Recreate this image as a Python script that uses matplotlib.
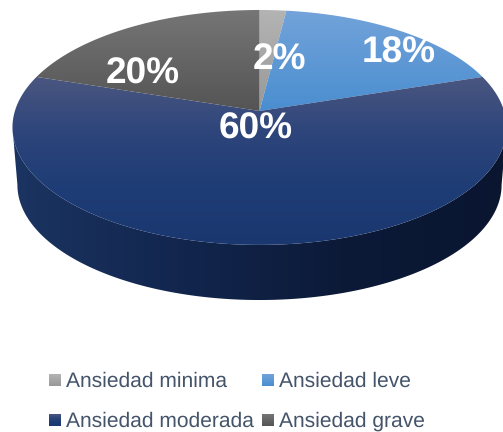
#!/usr/bin/env python3
# -*- coding: utf-8 -*-
import numpy as np
import matplotlib
matplotlib.use("Agg")
import matplotlib.pyplot as plt
from matplotlib.colors import LinearSegmentedColormap
from matplotlib.patches import Polygon

# Data
categories = ["Ansiedad minima", "Ansiedad leve", "Ansiedad moderada", "Ansiedad grave"]
values = [2, 18, 60, 20]

# Vertical gradients for the top face of each slice
slice_colors = [
    ["#b4b4b4", "#989898"],
    ["#73a3da", "#4a8ed0"],
    ["#4a5680", "#2d457b", "#1e3c75", "#1a3770"],
    ["#767676", "#545454"],
]
side_colors = ["#1b3461", "#12264e", "#0c1a38", "#0a1630"]
text_color = "#44546a"

# Pie geometry in pixels, the tilt is a simple perspective divide
center_x = 259.5
center_y = 111
radius_x = 244.6
radius_y = 115.15
tilt = 0.14

bottom_y = 168.8
bottom_scale = 0.98

# Label baselines
label_pos = [(279.5, 70), (399, 63), (256, 139), (143, 84)]
legend_pos = [(49, 374), (262, 374), (49, 414), (262, 414)]


def project(angle, y0=center_y, scale=1.0):
    # angle in degrees, clockwise from the back of the pie
    a = np.radians(angle)
    w = 1 + tilt * np.cos(a)
    x = center_x + scale * radius_x * np.sin(a) / w
    y = y0 - scale * radius_y * np.cos(a) / w
    return x, y


def gradient(ax, patch, colors, extent, horizontal=False):
    cmap = LinearSegmentedColormap.from_list("g", colors)
    ramp = np.linspace(0, 1, 256)
    ramp = ramp.reshape(1, -1) if horizontal else ramp.reshape(-1, 1)
    ax.add_patch(patch)
    im = ax.imshow(ramp, cmap=cmap, extent=extent, origin="upper",
                   aspect="auto", interpolation="bilinear", zorder=patch.get_zorder())
    im.set_clip_path(patch)


plt.rcParams["font.family"] = ["Liberation Sans", "DejaVu Sans"]
plt.rcParams["text.hinting"] = "none"
plt.rcParams["text.hinting_factor"] = 1

fig = plt.figure(figsize=(5.03, 4.32), dpi=100)
ax = fig.add_axes([0, 0, 1, 1])

# Side wall, front half only
front = np.linspace(98, 262, 200)
tx, ty = project(front)
bx, by = project(front[::-1], bottom_y, bottom_scale)
wall = Polygon(np.column_stack([np.r_[tx, bx], np.r_[ty, by]]), closed=True,
               facecolor="none", edgecolor="none", zorder=1)
gradient(ax, wall, side_colors, (13, 506, 305, 100), horizontal=True)

# Top face slices
start = 0
for value, colors in zip(values, slice_colors):
    end = start + value * 3.6
    arc = np.linspace(start, end, 200)
    x, y = project(arc)
    pts = np.column_stack([np.r_[center_x, x], np.r_[center_y, y]])
    wedge = Polygon(pts, closed=True, facecolor="none", edgecolor="none", zorder=2)
    gradient(ax, wedge, colors, (0, 503, pts[:, 1].max(), pts[:, 1].min()))
    start = end

# Percent labels
for value, (lx, ly) in zip(values, label_pos):
    ax.text(lx, ly, f"{value}%", color="white", fontsize=26.8, fontweight="bold",
            ha="center", va="baseline", zorder=3)

# Legend
for name, colors, (lx, ly) in zip(categories, slice_colors, legend_pos):
    box = Polygon([(lx, ly), (lx + 12, ly), (lx + 12, ly + 12), (lx, ly + 12)],
                  closed=True, facecolor="none", edgecolor="none", zorder=2)
    gradient(ax, box, colors, (lx, lx + 12, ly + 12, ly))
    ax.text(lx + 17, ly + 13, name, color=text_color, fontsize=15.3,
            ha="left", va="baseline", zorder=3)

ax.set_xlim(0, 503)
ax.set_ylim(432, 0)
ax.axis("off")

fig.savefig("out.png", dpi=100, facecolor="white")
